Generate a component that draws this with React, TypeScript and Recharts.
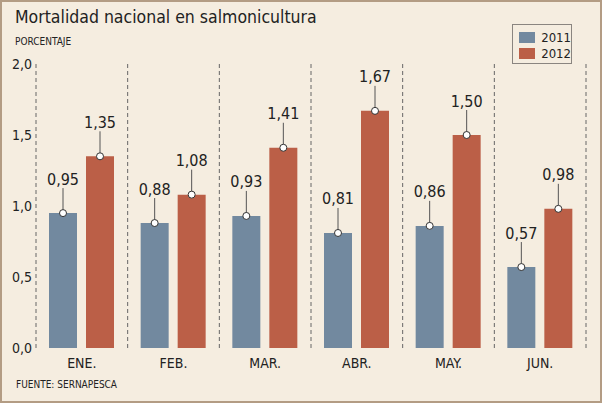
import React from 'react';
import { BarChart, Bar, XAxis, YAxis, CartesianGrid, LabelList } from 'recharts';

const months = ['ENE.', 'FEB.', 'MAR.', 'ABR.', 'MAY.', 'JUN.'];
const values2011 = [0.95, 0.88, 0.93, 0.81, 0.86, 0.57];
const values2012 = [1.35, 1.08, 1.41, 1.67, 1.5, 0.98];
const yTicks = [0, 0.5, 1, 1.5, 2];

const data = months.map((m, i) => ({ name: m, y2011: values2011[i], y2012: values2012[i] }));

const BG = '#f5ede0';
const BLUE = '#72899f';
const RED = '#bb5f47';
const FONT = '"DejaVu Sans Condensed", "Noto Sans", sans-serif';

const fmt = (v: number, d: number) => v.toFixed(d).replace('.', ',');

// value callout: dot on the bar top, a stem, and the number above it
function Callout(props: any) {
  const { x, y, width, value } = props;
  const cx = x + width / 2;
  return (
    <g>
      <line x1={cx} y1={y} x2={cx} y2={y - 25} stroke="#555" strokeWidth={1} />
      <circle cx={cx} cy={y} r={3.5} fill="#fff" stroke="#333" strokeWidth={1} />
      <text x={cx} y={y - 34} textAnchor="middle" dominantBaseline="central"
        fontSize={16} fill="#222" fontFamily={FONT}>
        {fmt(value, 2)}
      </text>
    </g>
  );
}

function LegendBox() {
  const items = [{ name: '2011', color: BLUE }, { name: '2012', color: RED }];
  return (
    <div style={{ position: 'absolute', left: 510, top: 22, width: 60, height: 40, boxSizing: 'border-box',
      border: '1px solid #8a8580', padding: '4px 0 0 6px' }}>
      {items.map(it => (
        <div key={it.name} style={{ display: 'flex', alignItems: 'center', gap: 6, height: 16 }}>
          <div style={{ width: 19, height: 11, background: it.color }} />
          <span style={{ fontSize: 13, color: '#222', fontFamily: FONT }}>{it.name}</span>
        </div>
      ))}
    </div>
  );
}

export default function App() {
  return (
    <div style={{ position: 'fixed', left: 0, top: 0, width: 602, height: 403, background: BG,
      boxSizing: 'border-box', border: '2px solid #b39c84', fontFamily: FONT }}>
      <div style={{ position: 'absolute', left: -2, top: -2 }}>
        <BarChart width={602} height={403} data={data}
          margin={{ top: 64, right: 16, bottom: 25, left: 0 }} barSize={28} barGap={9}>
          <CartesianGrid horizontal={false} stroke="#666" strokeDasharray="4 3"
            verticalCoordinatesGenerator={({ offset }: any) =>
              months.concat(['']).map((_, i) => offset.left + (i * offset.width) / months.length)} />
          <XAxis dataKey="name" axisLine={false} tickLine={false} tickSize={0} tickMargin={10}
            tick={{ fontSize: 14, fill: '#222', fontFamily: FONT }} />
          <YAxis domain={[0, 2]} ticks={yTicks} width={36} axisLine={false} tickLine={false}
            tickSize={0} tickMargin={4} tickFormatter={(v: number) => fmt(v, 1)}
            tick={{ fontSize: 14, fill: '#222', fontFamily: FONT }} />
          <Bar dataKey="y2011" name="2011" fill={BLUE} isAnimationActive={false}>
            <LabelList dataKey="y2011" content={<Callout />} />
          </Bar>
          <Bar dataKey="y2012" name="2012" fill={RED} isAnimationActive={false}>
            <LabelList dataKey="y2012" content={<Callout />} />
          </Bar>
        </BarChart>
      </div>
      <div style={{ position: 'absolute', left: 13, top: 5, fontSize: 17.5, color: '#222' }}>
        Mortalidad nacional en salmonicultura
      </div>
      <div style={{ position: 'absolute', left: 13, top: 34, fontSize: 10, color: '#222' }}>PORCENTAJE</div>
      <div style={{ position: 'absolute', left: 14, top: 377, fontSize: 10, color: '#222' }}>FUENTE: SERNAPESCA</div>
      <LegendBox />
    </div>
  );
}
